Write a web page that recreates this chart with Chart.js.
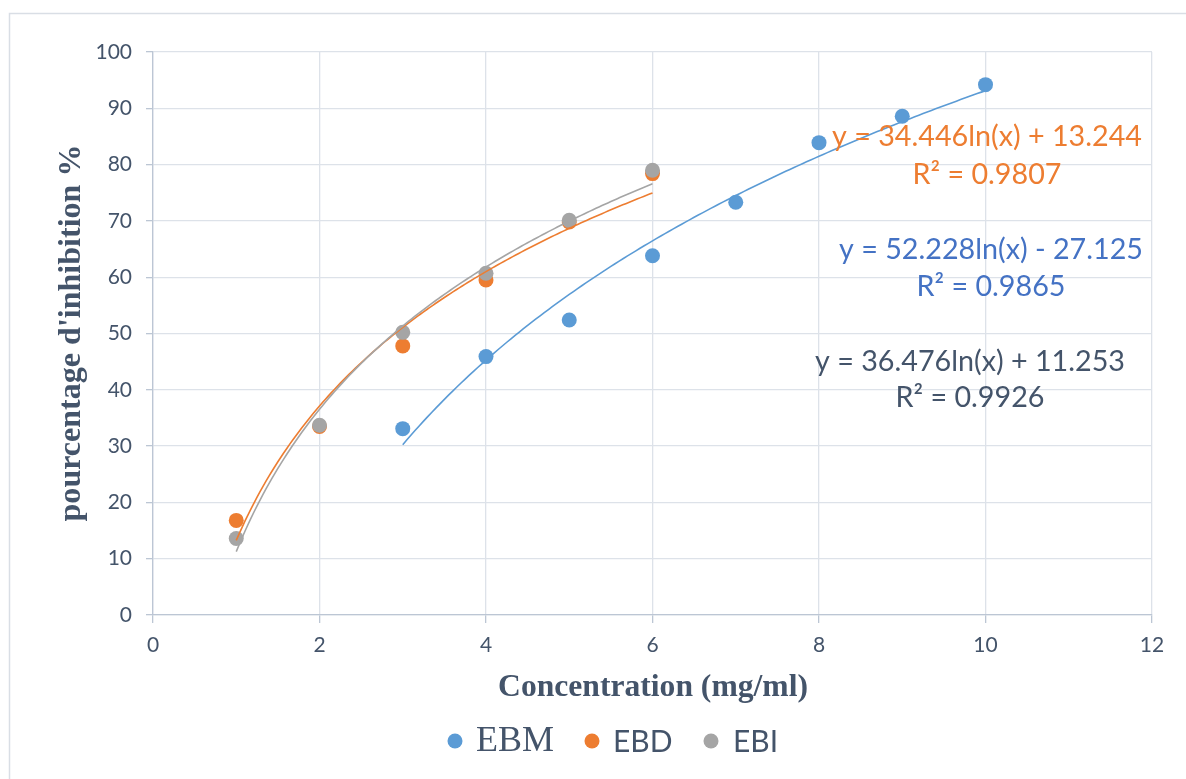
<!DOCTYPE html>
<html>
<head>
<meta charset="utf-8">
<script src="https://cdn.jsdelivr.net/npm/chart.js@4/dist/chart.umd.min.js"></script>
<style>
html,body{margin:0;padding:0;background:#fff;}
#wrap{width:1186px;height:779px;position:relative;}
</style>
</head>
<body>
<div id="wrap"><canvas id="c" width="1186" height="779"></canvas></div>
<script>
// ---- data ----
const seriesNames = ['EBM', 'EBD', 'EBI'];
const concEBM = [3, 4, 5, 6, 7, 8, 9, 10];
const valEBM  = [33.1, 45.9, 52.4, 63.8, 73.3, 83.9, 88.6, 94.2];
const concEB  = [1, 2, 3, 4, 5, 6];
const valEBD  = [16.8, 33.5, 47.8, 59.5, 69.8, 78.4];
const valEBI  = [13.6, 33.7, 50.2, 60.7, 70.1, 79.0];
// logarithmic trendlines as printed on the chart: y = a ln(x) + b
const trendA = [52.228, 34.446, 36.476];
const trendB = [-27.125, 13.244, 11.253];
const trendFrom = [3, 1, 1];
const trendTo = [10, 6, 6];
const eqTexts = ['y = 52.228ln(x) - 27.125', 'y = 34.446ln(x) + 13.244', 'y = 36.476ln(x) + 11.253'];
const r2Texts = ['R² = 0.9865', 'R² = 0.9807', 'R² = 0.9926'];
const xTitle = 'Concentration (mg/ml)';
const yTitle = "pourcentage d'inhibition %";

const colors = ['#5B9BD5', '#ED7D31', '#A5A5A5'];
const eqColors = ['#4472C4', '#ED7D31', '#44546A'];
const textColor = '#44546A';

function pts(xs, ys) { return xs.map((x, i) => ({x: x, y: ys[i]})); }
function trend(k) {
  const out = [];
  const n = 140;
  for (let i = 0; i <= n; i++) {
    const x = trendFrom[k] + (trendTo[k] - trendFrom[k]) * i / n;
    out.push({x: x, y: trendA[k] * Math.log(x) + trendB[k]});
  }
  return out;
}

function fitSize(ctx, text, family, weight, target) {
  ctx.font = weight + ' 100px ' + family;
  return 100 * target / ctx.measureText(text).width;
}

const bgPlugin = {
  id: 'bg',
  beforeDraw(chart) {
    const ctx = chart.ctx;
    ctx.save();
    ctx.fillStyle = '#fff';
    ctx.fillRect(0, 0, chart.width, chart.height);
    ctx.strokeStyle = '#D9DEE5';
    ctx.lineWidth = 1.5;
    ctx.strokeRect(9.5, 13.5, 1300, 900);
    ctx.restore();
  }
};

const textPlugin = {
  id: 'texts',
  afterDraw(chart) {
    const ctx = chart.ctx;
    ctx.save();
    ctx.textAlign = 'center';
    ctx.textBaseline = 'middle';
    // equations
    const eqSize = fitSize(ctx, eqTexts[1], 'Lato', 'normal', 310);
    const eqPos = [[991, 250, 287], [987, 137, 175], [970, 362, 398]];
    for (let k = 0; k < 3; k++) {
      ctx.fillStyle = eqColors[k];
      ctx.font = eqSize.toFixed(2) + 'px Lato';
      ctx.fillText(eqTexts[k], eqPos[k][0], eqPos[k][1]);
      ctx.fillText(r2Texts[k], eqPos[k][0], eqPos[k][2]);
    }
    // axis titles
    ctx.fillStyle = textColor;
    const xs = fitSize(ctx, xTitle, '"Liberation Serif"', 'bold', 310);
    ctx.font = 'bold ' + xs.toFixed(2) + 'px "Liberation Serif"';
    ctx.fillText(xTitle, 653, 688);
    const ys = fitSize(ctx, yTitle, '"Liberation Serif"', 'bold', 377);
    ctx.font = 'bold ' + ys.toFixed(2) + 'px "Liberation Serif"';
    ctx.translate(72, 333);
    ctx.rotate(-Math.PI / 2);
    ctx.fillText(yTitle, 0, 0);
    ctx.restore();

    // legend
    ctx.save();
    ctx.textBaseline = 'middle';
    ctx.textAlign = 'left';
    const legY = 741;
    const legMarkX = [455, 592, 711];
    const legTextX = [476, 613, 733];
    for (let k = 0; k < 3; k++) {
      ctx.fillStyle = colors[k];
      ctx.beginPath();
      ctx.arc(legMarkX[k], legY, 7.5, 0, Math.PI * 2);
      ctx.fill();
      ctx.fillStyle = textColor;
      if (k === 0) ctx.font = '36px "Liberation Serif"';
      else ctx.font = '30px Lato';
      ctx.fillText(seriesNames[k], legTextX[k], legY + 1);
    }
    ctx.restore();
  }
};

const pointSets = [pts(concEBM, valEBM), pts(concEB, valEBD), pts(concEB, valEBI)];
const datasets = [];
for (let k = 0; k < 3; k++) {
  datasets.push({
    label: seriesNames[k],
    data: pointSets[k],
    backgroundColor: colors[k],
    borderColor: colors[k],
    pointRadius: 7.5,
    pointHoverRadius: 7.5,
    borderWidth: 0,
    showLine: false,
    order: 10 - k
  });
}
for (let k = 0; k < 3; k++) {
  datasets.push({
    label: seriesNames[k] + ' trend',
    data: trend(k),
    borderColor: colors[k],
    borderWidth: 1.6,
    pointRadius: 0,
    showLine: true,
    fill: false,
    tension: 0,
    order: 3 - k
  });
}

new Chart(document.getElementById('c'), {
  type: 'scatter',
  data: { datasets: datasets },
  plugins: [bgPlugin, textPlugin],
  options: {
    responsive: false,
    animation: false,
    events: [],
    layout: { padding: { top: 52, right: 34, left: 0, bottom: 0 } },
    plugins: { legend: { display: false }, tooltip: { enabled: false } },
    scales: {
      x: {
        type: 'linear', min: 0, max: 12,
        afterFit(s) { s.height = 164; },
        ticks: { stepSize: 2, color: textColor, font: { family: 'Lato', size: 21 }, padding: 10 },
        grid: { color: '#DDE2E9', lineWidth: 1.3, tickLength: 8, tickColor: '#BCC6D4' },
        border: { color: '#BCC6D4', width: 1.3 }
      },
      y: {
        type: 'linear', min: 0, max: 100,
        afterFit(s) { s.width = 153; },
        ticks: { stepSize: 10, color: textColor, font: { family: 'Lato', size: 21 }, padding: 14 },
        grid: { color: '#DDE2E9', lineWidth: 1.3, tickLength: 7, tickColor: '#BCC6D4' },
        border: { color: '#BCC6D4', width: 1.3 }
      }
    }
  }
});
</script>
</body>
</html>
